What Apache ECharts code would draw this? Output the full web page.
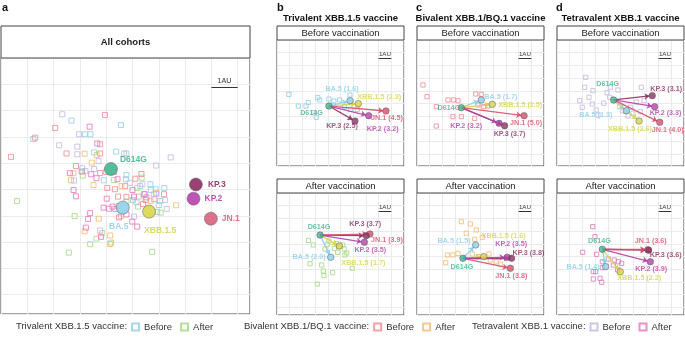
<!DOCTYPE html>
<html><head><meta charset="utf-8">
<script src="https://cdn.jsdelivr.net/npm/echarts@6/dist/echarts.min.js"></script>
<style>html,body{margin:0;padding:0;background:#fff}#c{width:685px;height:338px}</style>
</head><body><div id="c"></div>
<script>
// ---------------- DATA (antigenic map coordinates, AU) ----------------
const variants = ['D614G', 'BA.5', 'XBB.1.5', 'KP.3', 'KP.2', 'JN.1'];

// Panel a: all cohorts
const allX = [4.18, 4.63, 5.63, 7.41, 7.32, 7.98];
const allY = [4.22, 5.69, 5.84, 4.81, 5.35, 6.11];
const allTriBefore = [[2.68,2.38],[4.56,2.55],[1.23,3.08],[3.19,2.90],[3.40,2.90],[3.53,3.59],[4.38,3.56],[4.77,3.63],[3.21,4.30],[4.77,4.45],[4.75,4.61],[3.91,4.65],[5.68,4.80],[5.88,4.99],[6.21,4.95],[5.15,5.49],[6.00,5.59],[5.94,5.85],[5.70,5.02],[6.05,5.44],[5.29,4.87],[5.02,5.40]];
const allTriAfter = [[5.35,4.55],[3.11,4.47],[4.29,4.64],[5.18,4.94],[5.24,5.27],[4.77,5.46],[5.21,5.65],[6.07,5.88],[2.80,6.01],[3.85,6.66],[3.39,7.08],[3.63,6.87],[4.19,7.02],[2.58,7.40],[5.75,7.37],[0.61,5.44]];
const allBiBefore = [[3.95,2.17],[2.06,2.66],[1.30,3.03],[3.77,3.28],[2.49,3.63],[3.77,3.63],[2.85,4.11],[3.77,4.37],[4.00,4.33],[5.34,4.41],[5.11,4.59],[4.04,4.94],[4.33,4.99],[4.72,4.87],[6.20,5.18],[4.45,5.27],[4.77,5.28],[5.50,5.40],[5.83,5.37],[5.40,5.55],[0.38,3.76]];
const allBiAfter = [[3.18,3.64],[3.64,3.69],[3.45,3.98],[2.75,4.38],[2.66,4.65],[3.52,4.83],[4.58,4.87],[5.91,5.13],[5.69,5.44],[6.66,5.60],[4.47,5.63],[3.72,6.11],[4.56,6.01],[3.18,6.59],[4.15,6.75],[4.15,7.07]];
const allTetraBefore = [[2.33,2.14],[2.97,2.90],[2.21,3.32],[2.90,3.37],[2.90,3.66],[4.68,3.63],[6.45,3.78],[3.09,4.19],[3.71,3.92],[5.90,4.09],[3.54,4.22],[2.78,4.66],[5.38,4.80],[5.81,5.18],[6.24,5.40],[6.30,5.74],[5.06,6.03],[3.77,6.56],[5.89,5.17],[5.48,5.17],[4.90,4.75]];
const allTetraAfter = [[3.37,2.61],[3.66,3.25],[2.62,4.38],[3.07,4.32],[3.43,4.42],[4.30,4.33],[4.43,4.61],[3.63,4.57],[2.76,5.02],[2.85,5.26],[5.00,5.02],[5.43,5.18],[5.06,5.27],[5.53,5.30],[4.02,5.35],[4.24,5.65],[3.90,5.69],[4.11,5.73],[4.35,5.74],[3.39,5.90],[3.31,6.12],[4.49,6.06],[4.77,5.95],[4.99,6.22],[5.18,6.41],[3.23,6.45],[3.80,6.80]];

// Panel b: Trivalent XBB.1.5 vaccine
const triBeforeX = [4.09, 5.75, 6.40, 6.14, 7.22, 8.58];
const triBeforeY = [5.20, 4.78, 5.01, 6.38, 5.96, 5.59];
const triBeforeDist = [null, 1.6, 2.3, 2.5, 3.2, 4.5];
const triBeforeSera = [[0.94,4.28],[1.68,5.20],[2.28,5.20],[2.46,4.93],[3.22,4.54],[3.36,4.72],[2.91,5.72],[3.09,6.09],[4.09,4.65],[4.48,4.80],[4.93,4.72],[5.74,4.33],[5.32,5.25],[5.80,5.46],[6.32,5.46],[4.43,5.12]];
const triAfterX = [3.39, 4.23, 4.91, 7.03, 6.88, 7.32];
const triAfterY = [3.31, 5.06, 4.17, 3.36, 3.88, 3.23];
const triAfterDist = [null, 2.0, 1.7, 3.7, 3.5, 3.9];
const triAfterSera = [[2.47,3.73],[2.86,4.09],[3.96,4.04],[4.09,3.78],[4.51,4.36],[4.70,3.99],[4.78,4.67],[5.17,4.09],[5.30,4.41],[5.49,4.72],[5.35,4.88],[2.60,5.57],[3.52,5.67],[3.65,6.14],[3.70,6.51],[4.38,6.27],[5.93,5.93],[3.17,7.17],[3.78,4.41]];

// Panel c: Bivalent XBB.1/BQ.1 vaccine
const biBeforeX = [3.49, 5.06, 5.93, 6.90, 6.46, 8.43];
const biBeforeY = [5.33, 4.72, 5.06, 6.75, 6.56, 5.96];
const biBeforeDist = [null, 1.7, 2.5, 3.7, 3.2, 5.0];
const biBeforeSera = [[0.47,3.54],[0.79,4.46],[1.52,5.25],[2.44,4.72],[2.89,4.72],[3.23,4.78],[2.83,6.04],[3.49,6.04],[1.52,6.77],[4.62,4.25],[5.06,4.28],[4.80,5.12],[5.25,5.25],[5.59,5.20],[4.54,6.17]];
const biAfterX = [3.62, 4.62, 5.25, 7.45, 7.11, 7.35];
const biAfterY = [5.14, 4.09, 5.01, 5.14, 5.06, 5.93];
const biAfterDist = [null, 1.5, 1.6, 3.8, 3.5, 3.8];
const biAfterSera = [[3.49,2.26],[4.20,2.44],[3.88,3.17],[4.67,2.91],[5.14,3.49],[2.39,4.88],[2.83,4.88],[2.26,5.49],[3.23,4.75],[4.35,4.80],[4.80,5.01],[5.77,5.28],[6.24,5.41],[6.56,5.61],[4.54,3.65],[5.67,4.80]];

// Panel d: Tetravalent XBB.1 vaccine
const tetraBeforeX = [4.46, 5.46, 6.46, 7.50, 7.69, 8.09];
const tetraBeforeY = [4.72, 5.57, 6.38, 4.38, 5.25, 6.48];
const tetraBeforeDist = [null, 1.3, 2.6, 3.1, 3.3, 4.0];
const tetraBeforeSera = [[2.26,2.94],[2.18,3.72],[2.83,3.99],[2.52,4.51],[1.79,4.78],[1.99,5.30],[2.78,5.04],[3.09,5.51],[3.68,4.98],[3.94,4.15],[4.20,3.72],[4.80,3.94],[4.15,4.51],[4.94,5.25],[5.77,5.30],[5.98,5.77],[6.64,3.72],[6.85,4.78],[6.24,4.88],[5.20,5.59],[6.56,5.65],[3.23,5.91],[5.59,5.98]];
const tetraAfterX = [3.57, 3.83, 4.98, 7.22, 7.35, 7.15];
const tetraAfterY = [4.43, 5.80, 6.20, 4.50, 5.41, 4.47];
const tetraAfterDist = [null, 1.4, 2.2, 3.6, 3.9, 3.6];
const tetraAfterSera = [[2.81,2.65],[2.99,3.44],[2.02,4.67],[3.12,4.83],[3.57,5.41],[4.04,5.20],[4.51,5.28],[4.83,5.41],[5.09,5.54],[2.86,6.19],[3.05,6.19],[2.86,6.77],[3.39,6.72],[3.52,7.03],[4.78,6.06],[4.44,5.67],[3.57,5.88]];

const legendGroups = ['Trivalent XBB.1.5 vaccine:', 'Bivalent XBB.1/BQ.1 vaccine:', 'Tetravalent XBB.1 vaccine:'];
const legendItems = ['Before', 'After'];

// ---------------- STYLE / LAYOUT ----------------
const FONT = 'Liberation Sans, Arial, Helvetica, sans-serif';
const varColor = {'D614G':'#40b48e','BA.5':'#8ccfea','XBB.1.5':'#d6d44a','KP.3':'#8c2f63','KP.2':'#b541aa','JN.1':'#d5506c'};
const varColorA = {'D614G':'#45b893','BA.5':'#93d3ee','XBB.1.5':'#d9d650','KP.3':'#8e3265','KP.2':'#b845b0','JN.1':'#d9667f'};
const seraColor = {tb:'#97cfe8', ta:'#a7da8a', bb:'#ef8f97', ba:'#f3bd78', qb:'#c6bbe0', qa:'#e67cc0'};
const BORDER = '#444';
const GRIDLINE = '#ebebeb';
const CELL_A = 26.3, CELL_S = 12.7;
const LEGEND_FS = 9.5;

const grids = [
  {left:1, top:58, width:249, height:256, cell:CELL_A},
  {left:277, top:40, width:127, height:126, cell:CELL_S},
  {left:277, top:193, width:127, height:122, cell:CELL_S},
  {left:417, top:40, width:127, height:126, cell:CELL_S},
  {left:417, top:193, width:127, height:122, cell:CELL_S},
  {left:557, top:40, width:127, height:126, cell:CELL_S},
  {left:557, top:193, width:127, height:122, cell:CELL_S}
];

// label placement: [align, dx, dy] in px relative to circle centre
const labA = {'D614G':['left',9,-9],'BA.5':['center',-4,19],'XBB.1.5':['left',-5,19],'KP.3':['left',12,0],'KP.2':['left',11,0],'JN.1':['left',11,0]};
const labPanels = [
  {'D614G':['right',-6,7],'BA.5':['center',-8,-12],'XBB.1.5':['left',-1,-7],'KP.3':['right',3,5],'KP.2':['left',-2,13],'JN.1':['left',-15,7]},
  {'D614G':['center',-1,-8],'BA.5':['right',-5,0],'XBB.1.5':['left',2,17],'KP.3':['center',-1,-12],'KP.2':['left',-10,8],'JN.1':['left',1,6]},
  {'D614G':['right',-1,0],'BA.5':['left',3,-3],'XBB.1.5':['left',6,0.5],'KP.3':['left',-11,8],'KP.2':['right',-17,3],'JN.1':['left',-14,7]},
  {'D614G':['center',-1,9],'BA.5':['right',-5,-4],'XBB.1.5':['left',-2,-21],'KP.3':['left',1,-5],'KP.2':['left',-12,-13],'JN.1':['left',-15,8]},
  {'D614G':['center',-6,-16],'BA.5':['right',-14,4],'XBB.1.5':['center',-9,8],'KP.3':['left',-2,-7],'KP.2':['left',-5,6],'JN.1':['left',-8,8]},
  {'D614G':['center',-3,-8],'BA.5':['right',-6,0],'XBB.1.5':['left',-3,6],'KP.3':['left',1,5],'KP.2':['left',-15,7],'JN.1':['left',-13,-9]}
];

const panels = [
  {x:triBeforeX, y:triBeforeY, d:triBeforeDist, sera:triBeforeSera, col:seraColor.tb},
  {x:triAfterX, y:triAfterY, d:triAfterDist, sera:triAfterSera, col:seraColor.ta},
  {x:biBeforeX, y:biBeforeY, d:biBeforeDist, sera:biBeforeSera, col:seraColor.bb},
  {x:biAfterX, y:biAfterY, d:biAfterDist, sera:biAfterSera, col:seraColor.ba},
  {x:tetraBeforeX, y:tetraBeforeY, d:tetraBeforeDist, sera:tetraBeforeSera, col:seraColor.qb},
  {x:tetraAfterX, y:tetraAfterY, d:tetraAfterDist, sera:tetraAfterSera, col:seraColor.qa}
];

const xAxes = [], yAxes = [], gridOpts = [];
grids.forEach((g, i) => {
  gridOpts.push({left:g.left, top:g.top, width:g.width, height:g.height, show:true, borderColor:BORDER, borderWidth:1, backgroundColor:'#fff', containLabel:false});
  const common = {gridIndex:i, type:'value', min:0, interval:1, axisLine:{show:false}, axisTick:{show:false}, axisLabel:{show:false}, splitLine:{show:true, lineStyle:{color:GRIDLINE, width:1}}};
  xAxes.push(Object.assign({max:g.width/g.cell}, common));
  yAxes.push(Object.assign({max:g.height/g.cell, inverse:true}, common));
});

const series = [];
function seraSeries(name, pts, color, gi, size) {
  return {name:name, type:'scatter', xAxisIndex:gi, yAxisIndex:gi, symbol:'rect', symbolSize:size, data:pts,
    itemStyle:{color:'rgba(255,255,255,0)', borderColor:color, borderWidth:1, opacity:0.85}, z:2, silent:true};
}
const aGroups = [
  [legendGroups[0]+'|'+legendItems[0], allTriBefore, seraColor.tb],
  [legendGroups[0]+'|'+legendItems[1], allTriAfter, seraColor.ta],
  [legendGroups[1]+'|'+legendItems[0], allBiBefore, seraColor.bb],
  [legendGroups[1]+'|'+legendItems[1], allBiAfter, seraColor.ba],
  [legendGroups[2]+'|'+legendItems[0], allTetraBefore, seraColor.qb],
  [legendGroups[2]+'|'+legendItems[1], allTetraAfter, seraColor.qa]
];
aGroups.forEach(g => series.push(seraSeries(g[0], g[1], g[2], 0, 5)));

series.push({type:'scatter', xAxisIndex:0, yAxisIndex:0, z:5, silent:true,
  data: variants.map((v, k) => ({name:v, value:[allX[k], allY[k]], symbolSize:13,
    itemStyle:{color:varColorA[v], borderColor:'#666', borderWidth:0.6, opacity:0.92},
    label:{show:true, position:'inside', formatter:v, align:labA[v][0], verticalAlign:'middle', offset:[labA[v][1], labA[v][2]],
      color:varColorA[v], fontSize:8.5, fontWeight:'bold', fontFamily:FONT}}))});

function scaleBar(gi, yv, fs, dist) {
  return {type:'lines', coordinateSystem:'cartesian2d', xAxisIndex:gi, yAxisIndex:gi, z:3, silent:true, symbol:'none',
    lineStyle:{color:'#333', width:1, opacity:1},
    data:[{coords:[[8, yv],[9, yv]]}],
    label:{show:true, position:'middle', formatter:'1AU', fontSize:fs, color:'#333', fontFamily:FONT, distance:dist}};
}
series.push(scaleBar(0, 1.12, 7.2, 3));

panels.forEach((p, i) => {
  const gi = i + 1;
  const lab = labPanels[i];
  series.push(seraSeries('sera'+i, p.sera, p.col, gi, 4.2));
  series.push(scaleBar(gi, 1.45, 6.2, 1));
  const arrows = [];
  for (let k = 1; k < variants.length; k++) {
    const dx = p.x[k] - p.x[0], dy = p.y[k] - p.y[0];
    const len = Math.sqrt(dx*dx + dy*dy);
    const s = (len - 0.22) / len;
    arrows.push({coords:[[p.x[0], p.y[0]], [p.x[0] + dx*s, p.y[0] + dy*s]], lineStyle:{color:varColor[variants[k]]}});
  }
  series.push({type:'lines', coordinateSystem:'cartesian2d', xAxisIndex:gi, yAxisIndex:gi, z:4, silent:true,
    symbol:['none','arrow'], symbolSize:[0,5], lineStyle:{width:1.3, opacity:0.9}, data:arrows});
  const order = [1,2,5,4,3,0];
  series.push({type:'scatter', xAxisIndex:gi, yAxisIndex:gi, z:6, silent:true,
    data: order.map(k => {
      const v = variants[k];
      const txt = p.d[k] == null ? v : v + ' (' + p.d[k].toFixed(1) + ')';
      return {name:v, value:[p.x[k], p.y[k]], symbolSize:6.5,
        itemStyle:{color:varColor[v], borderColor:'#555', borderWidth:0.6},
        label:{show:true, position:'inside', formatter:txt, align:lab[v][0], verticalAlign:'middle', offset:[lab[v][1], lab[v][2]],
          color:varColor[v], fontSize:7.2, fontWeight:'bold', fontFamily:FONT}};
    })});
});

const graphic = [];
function strip(x, y, w, h, text, fs, bold) {
  graphic.push({type:'rect', shape:{x:x, y:y, width:w, height:h}, style:{fill:'#fff', stroke:BORDER, lineWidth:1}, z:10});
  graphic.push({type:'text', x:x + w/2, y:y + h/2, style:{text:text, fill:'#222', font:(bold?'bold ':'') + fs + 'px ' + FONT, textAlign:'center', textVerticalAlign:'middle'}, z:11});
}
strip(1, 26, 249, 32, 'All cohorts', 9.5, true);
const colTitles = ['Trivalent XBB.1.5 vaccine', 'Bivalent XBB.1/BQ.1 vaccine', 'Tetravalent XBB.1 vaccine'];
[277, 417, 557].forEach((x, i) => {
  strip(x, 26, 127, 14, 'Before vaccination', 9.5, false);
  strip(x, 179, 127, 14, 'After vaccination', 9.5, false);
  graphic.push({type:'text', x:x + 63.5, y:18, style:{text:colTitles[i], fill:'#111', font:'bold 9.5px ' + FONT, textAlign:'center', textVerticalAlign:'middle'}});
});
[['a',2],['b',277],['c',416],['d',556]].forEach(l => {
  graphic.push({type:'text', x:l[1], y:8, style:{text:l[0], fill:'#111', font:'bold 11px ' + FONT, textAlign:'left', textVerticalAlign:'middle'}});
});
const measureCtx = document.createElement('canvas').getContext('2d');
measureCtx.font = LEGEND_FS + 'px ' + FONT;
const groupStarts = [16, 244, 472];
const legends = [];
groupStarts.forEach((gx, i) => {
  graphic.push({type:'text', x:gx, y:326, style:{text:legendGroups[i], fill:'#333', font:LEGEND_FS + 'px ' + FONT, textAlign:'left', textVerticalAlign:'middle'}});
  const w = measureCtx.measureText(legendGroups[i]).width;
  legends.push({
    left:gx + w + 4, top:322, padding:0, orient:'horizontal', itemWidth:7, itemHeight:7, itemGap:8, selectedMode:false,
    icon:'rect', textStyle:{fontSize:LEGEND_FS, color:'#333', fontFamily:FONT},
    data:[aGroups[i*2][0], aGroups[i*2+1][0]],
    formatter: n => n.split('|')[1]
  });
});

const chart = echarts.init(document.getElementById('c'), null, {renderer:'canvas'});
chart.setOption({
  animation:false,
  backgroundColor:'#fff',
  grid:gridOpts, xAxis:xAxes, yAxis:yAxes,
  legend:legends,
  graphic:graphic,
  series:series
});
</script></body></html>
